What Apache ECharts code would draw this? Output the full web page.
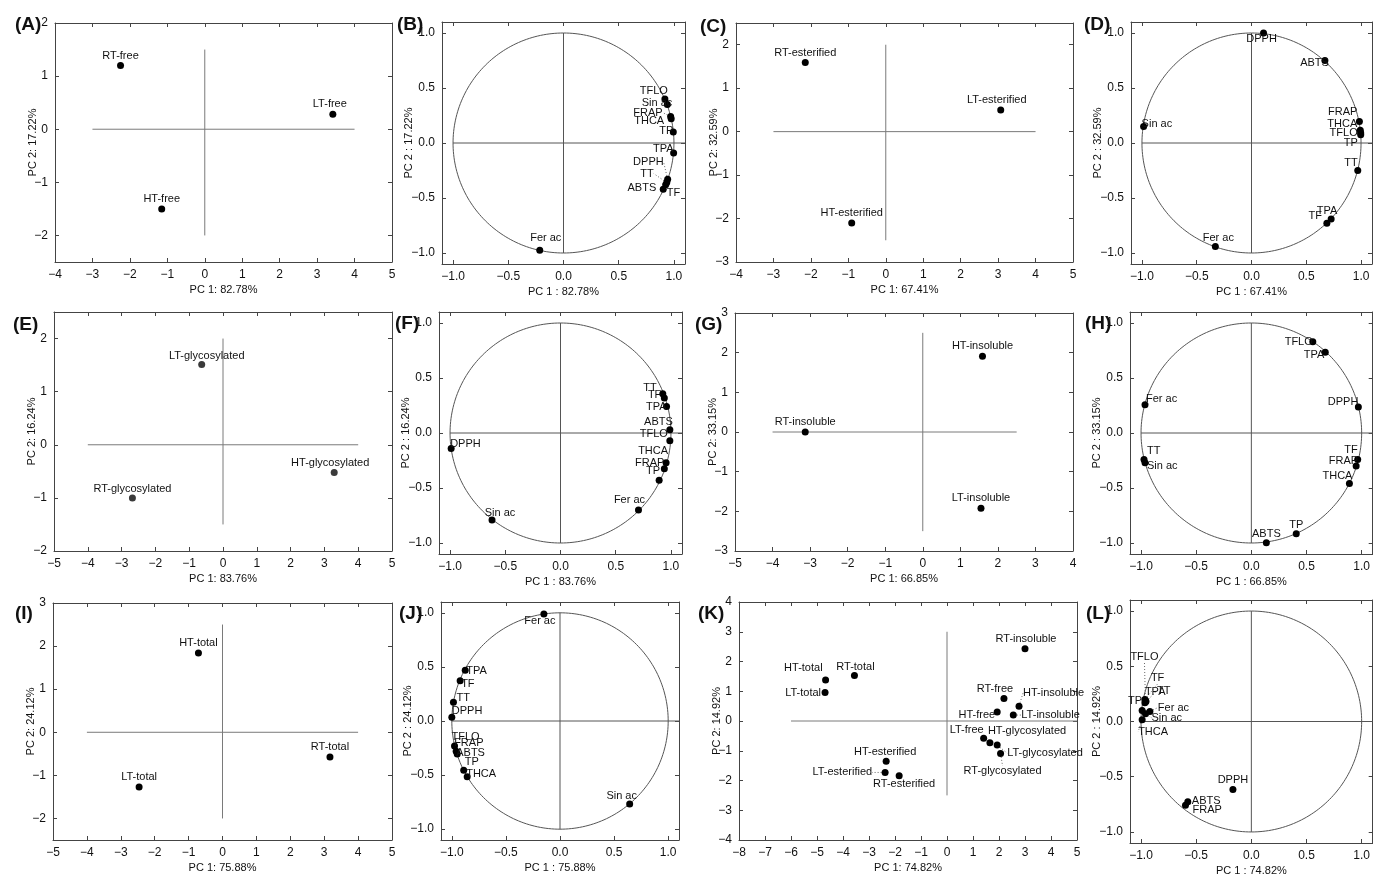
<!DOCTYPE html>
<html lang="en">
  <head>
    <meta charset="UTF-8" />
    <title>PCA panels</title>
    <script src="https://cdn.jsdelivr.net/npm/echarts@6.0.0/dist/echarts.min.js"></script>
    <style>
      html, body { margin: 0; padding: 0; background: #fff; }
      #chart { width: 1373px; height: 877px; }
    </style>
  </head>
  <body>
    <div id="chart"></div>
    <script>
      // tick values
      var loadTicks = [-1, -0.5, 0, 0.5, 1];
      var ticks4to5 = [-4, -3, -2, -1, 0, 1, 2, 3, 4, 5];
      var ticks5to5 = [-5, -4, -3, -2, -1, 0, 1, 2, 3, 4, 5];
      var ticks5to4 = [-5, -4, -3, -2, -1, 0, 1, 2, 3, 4];
      var ticks8to5 = [-8, -7, -6, -5, -4, -3, -2, -1, 0, 1, 2, 3, 4, 5];

      // (A) scores, free
      var aNames = ['RT-free', 'LT-free', 'HT-free'];
      var aX = [-2.25, 3.42, -1.15];
      var aY = [1.2, 0.28, -1.5];
      // (B) loadings, free
      var bNames = ['TFLO', 'Sin ac', 'FRAP', 'THCA', 'TP', 'TPA', 'DPPH', 'TT', 'TF', 'ABTS', 'Fer ac'];
      var bX = [0.918, 0.94, 0.97, 0.975, 0.994, 0.997, 0.943, 0.935, 0.925, 0.903, -0.215];
      var bY = [0.4, 0.35, 0.24, 0.22, 0.1, -0.09, -0.33, -0.36, -0.38, -0.42, -0.976];
      // (C) scores, esterified
      var cNames = ['RT-esterified', 'LT-esterified', 'HT-esterified'];
      var cX = [-2.15, 3.07, -0.91];
      var cY = [1.59, 0.5, -2.1];
      // (D) loadings, esterified
      var dNames = ['DPPH', 'ABTS', 'FRAP', 'THCA', 'TFLO', 'TP', 'TT', 'TPA', 'TF', 'Fer ac', 'Sin ac'];
      var dX = [0.11, 0.67, 0.985, 0.993, 0.997, 0.997, 0.97, 0.727, 0.688, -0.33, -0.985];
      var dY = [1.0, 0.75, 0.195, 0.115, 0.09, 0.075, -0.25, -0.69, -0.73, -0.94, 0.15];
      // (E) scores, glycosylated
      var eNames = ['LT-glycosylated', 'HT-glycosylated', 'RT-glycosylated'];
      var eX = [-0.63, 3.29, -2.68];
      var eY = [1.51, -0.52, -1.0];
      // (F) loadings, glycosylated
      var fNames = ['TT', 'TF', 'TPA', 'ABTS', 'TFLO', 'THCA', 'FRAP', 'TP', 'Fer ac', 'Sin ac', 'DPPH'];
      var fX = [0.926, 0.94, 0.96, 0.99, 0.99, 0.956, 0.94, 0.893, 0.706, -0.62, -0.99];
      var fY = [0.357, 0.318, 0.24, 0.03, -0.07, -0.27, -0.325, -0.43, -0.7, -0.79, -0.14];
      // (G) scores, insoluble
      var gNames = ['HT-insoluble', 'RT-insoluble', 'LT-insoluble'];
      var gX = [1.59, -3.13, 1.55];
      var gY = [1.91, 0.0, -1.92];
      // (H) loadings, insoluble
      var hNames = ['TFLO', 'TPA', 'DPPH', 'Fer ac', 'TT', 'Sin ac', 'TF', 'FRAP', 'THCA', 'TP', 'ABTS'];
      var hX = [0.557, 0.67, 0.97, -0.964, -0.973, -0.964, 0.964, 0.95, 0.889, 0.407, 0.136];
      var hY = [0.83, 0.735, 0.236, 0.257, -0.24, -0.27, -0.24, -0.3, -0.46, -0.915, -0.997];
      // (I) scores, total
      var iNames = ['HT-total', 'RT-total', 'LT-total'];
      var iX = [-0.71, 3.17, -2.46];
      var iY = [1.84, -0.575, -1.27];
      // (J) loadings, total
      var jNames = ['Fer ac', 'TPA', 'TF', 'TT', 'DPPH', 'TFLO', 'FRAP', 'ABTS', 'TP', 'THCA', 'Sin ac'];
      var jX = [-0.149, -0.876, -0.923, -0.985, -1.0, -0.975, -0.96, -0.95, -0.89, -0.858, 0.644];
      var jY = [0.988, 0.47, 0.373, 0.173, 0.034, -0.23, -0.28, -0.305, -0.455, -0.515, -0.768];
      // (K) scores, all fractions
      var kNames = ['HT-total', 'RT-total', 'LT-total', 'HT-esterified', 'LT-esterified', 'RT-esterified',
        'RT-insoluble', 'RT-free', 'HT-free', 'HT-insoluble', 'LT-insoluble',
        'LT-free', 'HT-glycosylated', 'LT-glycosylated', 'RT-glycosylated'];
      var kX = [-4.67, -3.56, -4.69, -2.34, -2.38, -1.84, 3.0, 2.19, 1.93, 2.77, 2.55, 1.41, 1.65, 1.93, 2.06];
      var kY = [1.38, 1.53, 0.955, -1.35, -1.73, -1.84, 2.43, 0.76, 0.3, 0.5, 0.2, -0.58, -0.73, -0.81, -1.09];
      // (L) loadings, all fractions
      var lNames = ['TFLO', 'TF', 'TT', 'TP', 'TPA', 'Fer ac', 'Sin ac', 'THCA', 'DPPH', 'ABTS', 'FRAP'];
      var lX = [-0.96, -0.965, -0.955, -0.99, -0.965, -0.92, -0.96, -0.99, -0.167, -0.576, -0.597];
      var lY = [0.19, 0.2, 0.18, 0.1, 0.17, 0.09, 0.07, 0.015, -0.615, -0.727, -0.758];

      // label placement: [dx, dy, align, leader line]
      var up = [0, -10, 'center', false];
      var aLab = [up, [-3, -10, 'center', false], up];
      var bLab = [[3, -8, 'right'], [5, -2, 'right'], [-8, -4, 'right', true], [-7, 2, 'right'], [0, -1, 'right'],
        [0, -4, 'right'], [-4, -17, 'right', true], [-13, -9, 'right', true], [1, 8, 'left'], [-7, -1, 'right'], [6, -12, 'center']];
      var cLab = [up, [-4, -10, 'center'], up];
      var dLab = [[-2, 6, 'center'], [4, 2, 'right'], [-2, -10, 'right'], [-3, -6, 'right'], [-3, 0, 'right'],
        [-3, 8, 'right'], [0, -8, 'right'], [-4, -8, 'center'], [-5, -7, 'right'], [3, -8, 'center'], [-2, -3, 'left']];
      var eLab = [[5, -9, 'center'], [-4, -9, 'center'], [0, -9, 'center']];
      var fLab = [[-6, -6, 'right'], [-3, -3, 'right'], [0, 0, 'right'], [3, -8, 'right'], [-2, -7, 'right'],
        [2, -12, 'right'], [0, -6, 'right'], [1, -9, 'right'], [-9, -10, 'center'], [8, -7, 'center'], [-1, -4, 'left']];
      var gLab = [up, up, up];
      var hLab = [[0, 0, 'right'], [-1, 3, 'right'], [0, -5, 'right'], [1, -6, 'left'], [3, -8, 'left'], [2, 3, 'left'],
        [0, -9, 'right'], [2, -5, 'right'], [3, -8, 'right'], [0, -9, 'center'], [0, -9, 'center']];
      var iLab = [up, up, up];
      var jLab = [[-4, 7, 'center'], [1, 1, 'left'], [1, 3, 'left'], [3, -4, 'left'], [0, -6, 'left'], [-3, -9, 'left'],
        [-2, -8, 'left'], [-1, -1, 'left'], [1, -8, 'left'], [-1, -3, 'left'], [-8, -8, 'center']];
      var kLab = [[-3, -12, 'right'], [1, -9, 'center'], [-4, 0, 'right'], [-1, -9, 'center'], [-13, 0, 'right', true],
        [5, 8, 'center'], [1, -10, 'center'], [-9, -9, 'center'], [-2, 3, 'right'], [4, -13, 'left', true], [8, 0, 'left', true],
        [0, -8, 'right'], [-2, -12, 'left'], [10, 8, 'left', true], [2, 18, 'center', true]];
      var lLab = [[-1, -44, 'center', true], [6, -21, 'left', true], [11, -11, 'left', true], [0, -9, 'right'], [0, -11, 'left'],
        [8, -4, 'left', true], [6, 4, 'left', true], [-4, 12, 'left', true], [0, -9, 'center'], [4, -1, 'left'], [7, 5, 'left']];

      var panels = [
        { tag: '(A)', tl: [10, 10], grid: [55, 23, 337, 239], xr: [-4, 5], yr: [-2.5, 2], xt: ticks4to5, yt: [-2, -1, 0, 1, 2],
          xn: 'PC 1: 82.78%', yn: 'PC 2: 17.22%', names: aNames, xs: aX, ys: aY, lab: aLab, cross: [-3, 4, -2, 1.5] },
        { tag: '(B)', tl: [392, 10], grid: [442, 22, 243, 242], xn: 'PC 1 : 82.78%', yn: 'PC 2 : 17.22%',
          names: bNames, xs: bX, ys: bY, lab: bLab },
        { tag: '(C)', tl: [695, 12], grid: [736, 23, 337, 239], xr: [-4, 5], yr: [-3, 2.5], xt: ticks4to5, yt: [-3, -2, -1, 0, 1, 2],
          xn: 'PC 1: 67.41%', yn: 'PC 2: 32.59%', names: cNames, xs: cX, ys: cY, lab: cLab, cross: [-3, 4, -2.5, 2] },
        { tag: '(D)', tl: [1079, 10], grid: [1131, 22, 241, 242], xn: 'PC 1 : 67.41%', yn: 'PC 2 : 32.59%',
          names: dNames, xs: dX, ys: dY, lab: dLab },
        { tag: '(E)', tl: [8, 310], grid: [54, 312, 338, 239], xr: [-5, 5], yr: [-2, 2.5], xt: ticks5to5, yt: [-2, -1, 0, 1, 2],
          xn: 'PC 1: 83.76%', yn: 'PC 2: 16.24%', names: eNames, xs: eX, ys: eY, lab: eLab, cross: [-4, 4, -1.5, 2], dot: '#3a3a3a' },
        { tag: '(F)', tl: [390, 309], grid: [439, 312, 243, 242], xn: 'PC 1 : 83.76%', yn: 'PC 2 : 16.24%',
          names: fNames, xs: fX, ys: fY, lab: fLab },
        { tag: '(G)', tl: [690, 310], grid: [735, 313, 338, 238], xr: [-5, 4], yr: [-3, 3], xt: ticks5to4, yt: [-3, -2, -1, 0, 1, 2, 3],
          xn: 'PC 1: 66.85%', yn: 'PC 2: 33.15%', names: gNames, xs: gX, ys: gY, lab: gLab, cross: [-4, 2.5, -2.5, 2.5] },
        { tag: '(H)', tl: [1080, 309], grid: [1130, 312, 243, 242], xn: 'PC 1 : 66.85%', yn: 'PC 2 : 33.15%',
          names: hNames, xs: hX, ys: hY, lab: hLab },
        { tag: '(I)', tl: [10, 599], grid: [53, 603, 339, 237], xr: [-5, 5], yr: [-2.5, 3], xt: ticks5to5, yt: [-2, -1, 0, 1, 2, 3],
          xn: 'PC 1: 75.88%', yn: 'PC 2: 24.12%', names: iNames, xs: iX, ys: iY, lab: iLab, cross: [-4, 4, -2, 2.5] },
        { tag: '(J)', tl: [394, 599], grid: [441, 602, 238, 238], xn: 'PC 1 : 75.88%', yn: 'PC 2 : 24.12%',
          names: jNames, xs: jX, ys: jY, lab: jLab },
        { tag: '(K)', tl: [693, 599], grid: [739, 602, 338, 238], xr: [-8, 5], yr: [-4, 4], xt: ticks8to5, yt: [-4, -3, -2, -1, 0, 1, 2, 3, 4],
          xn: 'PC 1: 74.82%', yn: 'PC 2: 14.92%', names: kNames, xs: kX, ys: kY, lab: kLab, cross: [-6, 5, -2.5, 3] },
        { tag: '(L)', tl: [1081, 599], grid: [1130, 600, 243, 243], xn: 'PC 1 : 74.82%', yn: 'PC 2 : 14.92%',
          names: lNames, xs: lX, ys: lY, lab: lLab }
      ];

      var FONT = '"Liberation Sans", Arial, sans-serif';
      var frame = '#444';
      var textCol = '#111';

      function fmt(dec) {
        return function (v) {
          var s = dec ? (Math.abs(v) < 1e-9 ? 0 : v).toFixed(1) : String(Math.round(v));
          return s.replace('-', '\u2212');
        };
      }

      var grids = [], xAxes = [], yAxes = [], series = [], titles = [];

      // unit circle for loading plots
      var circle = [];
      for (var k = 0; k <= 240; k++) {
        var t = k / 240 * 2 * Math.PI;
        circle.push([Math.cos(t), Math.sin(t)]);
      }

      panels.forEach(function (p, i) {
        var load = !p.cross;
        var xr = load ? [-1.1, 1.1] : p.xr;
        var yr = load ? [-1.1, 1.1] : p.yr;
        var xt = load ? loadTicks : p.xt;
        var yt = load ? loadTicks : p.yt;
        titles.push({ text: p.tag, left: p.tl[0], top: p.tl[1],
          textStyle: { fontFamily: FONT, fontSize: 19, fontWeight: 'bold', color: '#111' } });
        grids.push({ left: p.grid[0], top: p.grid[1], width: p.grid[2], height: p.grid[3], containLabel: false });
        var line = { show: true, onZero: false, lineStyle: { color: frame, width: 1 } };
        xAxes.push({
          gridIndex: i, type: 'value', min: xr[0], max: xr[1], position: 'bottom', axisLine: line,
          axisTick: { inside: true, length: 4, customValues: xt, lineStyle: { color: frame } },
          axisLabel: { customValues: xt, formatter: fmt(load), fontFamily: FONT, fontSize: 12, color: textCol, margin: 7 },
          splitLine: { show: false }, name: p.xn, nameLocation: 'middle', nameGap: 22, nameMoveOverlap: false,
          nameTextStyle: { fontFamily: FONT, fontSize: 11, color: textCol }
        });
        xAxes.push({
          gridIndex: i, type: 'value', min: xr[0], max: xr[1], position: 'top', axisLine: line,
          axisTick: { inside: true, length: 4, customValues: xt, lineStyle: { color: frame } },
          axisLabel: { show: false }, splitLine: { show: false }
        });
        yAxes.push({
          gridIndex: i, type: 'value', min: yr[0], max: yr[1], position: 'left', axisLine: line,
          axisTick: { inside: true, length: 4, customValues: yt, lineStyle: { color: frame } },
          axisLabel: { customValues: yt, formatter: fmt(load), fontFamily: FONT, fontSize: 12, color: textCol, margin: 7 },
          splitLine: { show: false }, name: p.yn, nameLocation: 'middle', nameGap: load ? 28 : 17, nameMoveOverlap: false,
          nameTextStyle: { fontFamily: FONT, fontSize: 11, color: textCol }
        });
        yAxes.push({
          gridIndex: i, type: 'value', min: yr[0], max: yr[1], position: 'right', axisLine: line,
          axisTick: { inside: true, length: 4, customValues: yt, lineStyle: { color: frame } },
          axisLabel: { show: false }, splitLine: { show: false }
        });

        var ax = { xAxisIndex: 2 * i, yAxisIndex: 2 * i };
        var refStyle = { color: load ? '#555' : '#7a7a7a', width: 1 };
        function refLine(d) {
          series.push(Object.assign({ type: 'line', data: d, showSymbol: false, symbol: 'none', silent: true,
            lineStyle: refStyle, z: 1 }, ax));
        }
        if (load) {
          refLine(circle);
          refLine([[-1, 0], [1.1, 0]]);
          refLine([[0, -1], [0, 1]]);
        } else {
          refLine([[p.cross[0], 0], [p.cross[1], 0]]);
          refLine([[0, p.cross[2]], [0, p.cross[3]]]);
        }

        var lab = p.lab;
        var data = p.names.map(function (n, j) {
          var s = lab[j];
          return {
            name: n, value: [p.xs[j], p.ys[j]],
            label: { align: s[2] },
            labelLine: { show: !!s[3], lineStyle: { color: '#666', type: [1, 2], width: 1 } }
          };
        });
        series.push(Object.assign({
          type: 'scatter', data: data, symbolSize: 7, z: 3,
          itemStyle: { color: p.dot || '#000', opacity: 1 },
          label: { show: true, position: 'inside', formatter: '{b}', fontFamily: FONT, fontSize: 11,
            color: textCol, verticalAlign: 'middle' },
          labelLayout: function (prm) {
            var s = lab[prm.dataIndex];
            return { dx: s[0], dy: s[1] };
          }
        }, ax));
      });

      var chart = echarts.init(document.getElementById('chart'), null, { renderer: 'canvas' });
      chart.setOption({
        animation: false,
        backgroundColor: '#fff',
        title: titles,
        grid: grids,
        xAxis: xAxes,
        yAxis: yAxes,
        series: series
      });
    </script>
  </body>
</html>
